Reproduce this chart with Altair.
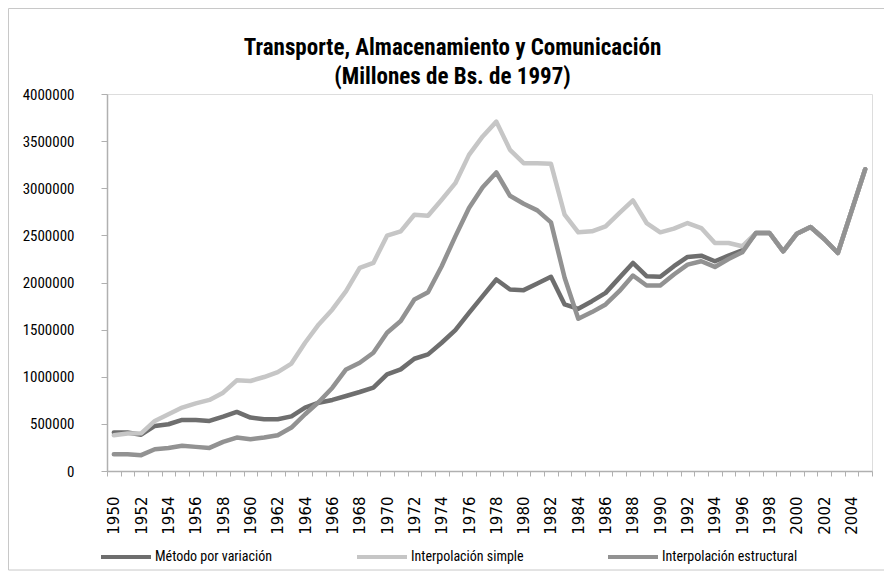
import altair as alt
import pandas as pd

years = list(range(1950, 2006))

metodo = [408000, 408000, 385000, 478000, 496000, 542000, 542000, 531000, 577000, 627000,
          567000, 549000, 549000, 580000, 673000, 725000, 754000, 796000, 838000, 884000,
          1025000, 1078000, 1191000, 1237000, 1361000, 1495000, 1678000, 1855000, 2032000, 1926000,
          1919000, 1989000, 2060000, 1767000, 1721000, 1802000, 1890000, 2049000, 2208000, 2067000,
          2060000, 2173000, 2271000, 2285000, 2225000, 2285000, 2341000,
          2525000, 2525000, 2331000, 2518000, 2589000, 2462000, 2313000, 2757000, 3202000]

simple = [380000, 397000, 400000, 531000, 602000, 673000, 718000, 754000, 831000, 962000,
          955000, 997000, 1050000, 1140000, 1361000, 1555000, 1714000, 1908000, 2155000, 2208000,
          2497000, 2543000, 2719000, 2709000, 2878000, 3054000, 3354000, 3550000, 3707000, 3407000,
          3266000, 3266000, 3259000, 2719000, 2532000, 2543000, 2596000, 2737000, 2871000, 2631000,
          2532000, 2572000, 2631000, 2578000, 2419000, 2419000, 2384000,
          2525000, 2525000, 2331000, 2518000, 2589000, 2462000, 2313000, 2757000, 3202000]

estructural = [178000, 178000, 168000, 231000, 245000, 267000, 256000, 245000, 309000, 355000,
               337000, 355000, 380000, 461000, 602000, 732000, 884000, 1078000, 1149000, 1255000,
               1467000, 1591000, 1820000, 1897000, 2173000, 2490000, 2790000, 3010000, 3167000, 2920000,
               2835000, 2765000, 2638000, 2050000, 1615000, 1686000, 1767000, 1908000, 2074000, 1968000,
               1968000, 2085000, 2190000, 2225000, 2165000, 2250000, 2320000,
               2525000, 2525000, 2331000, 2518000, 2589000, 2462000, 2313000, 2757000, 3202000]

series = ["Método por variación", "Interpolación simple", "Interpolación estructural"]
colors = ["#6e6e6e", "#c6c6c6", "#929292"]
y_ticks = [0, 500000, 1000000, 1500000, 2000000, 2500000, 3000000, 3500000, 4000000]

rows = []
for name, vals in zip(series, [metodo, simple, estructural]):
    for yr, v in zip(years, vals):
        rows.append({"anio": yr, "valor": v, "serie": name})
df = pd.DataFrame(rows)

NARROW = "Liberation Sans Narrow, Arial Narrow, Roboto Condensed, DejaVu Sans Condensed, Liberation Sans, Arial, sans-serif"
W, H = 765, 377

lines = alt.Chart(df).mark_line(strokeWidth=4.5, strokeJoin="round", strokeCap="round").encode(
    x=alt.X("anio:O",
            scale=alt.Scale(type="band", paddingInner=0, paddingOuter=0),
            axis=alt.Axis(title=None, labelAngle=270, tickBand="extent",
                          labelExpr="datum.value % 2 == 0 ? datum.label : ''",
                          labelOverlap=False, tickSize=5, labelPadding=20,
                          labelFont="DejaVu Sans", labelFontSize=15, labelColor="#000000",
                          domainColor="#b0b0b0", tickColor="#b0b0b0", domainWidth=1.5)),
    y=alt.Y("valor:Q",
            scale=alt.Scale(domain=[0, 4000000], nice=False),
            axis=alt.Axis(title=None, values=y_ticks, format="d", grid=False,
                          tickSize=6, labelPadding=27, labelFont=NARROW, labelFontSize=15,
                          labelColor="#000000", domainColor="#b0b0b0", tickColor="#b0b0b0",
                          domainWidth=1.5)),
    color=alt.Color("serie:N", sort=series,
                    scale=alt.Scale(domain=series, range=colors),
                    legend=alt.Legend(title=None, orient="none", legendX=-8, legendY=436,
                                      direction="horizontal", symbolType="stroke",
                                      symbolSize=2500, symbolStrokeWidth=4,
                                      labelFont=NARROW, labelFontSize=14, labelColor="#000000",
                                      labelOffset=2, columnPadding=76, labelLimit=300)),
)

frame = alt.Chart(pd.DataFrame({"a": [0]})).mark_rect(
    filled=False, stroke="#c8c8c8", strokeWidth=1, clip=False
).encode(
    x=alt.value(-98.5), x2=alt.value(820), y=alt.value(-85.5), y2=alt.value(476)
)

chart = alt.layer(frame, lines).properties(
    width=W, height=H,
    title=alt.Title(["Transporte, Almacenamiento y Comunicación", "(Millones de Bs. de 1997)"],
                    font=NARROW, fontSize=23, fontWeight="bold", color="#000000",
                    anchor="middle", frame="group", dx=-37, dy=81, offset=0, lineHeight=29),
    autosize=alt.AutoSizeParams(type="none"),
    padding={"left": 99, "top": 86, "right": 12, "bottom": 100},
).configure_view(stroke=None).configure(background="#ffffff")

chart.save("out.html", embed_options={"renderer": "svg", "actions": False})
